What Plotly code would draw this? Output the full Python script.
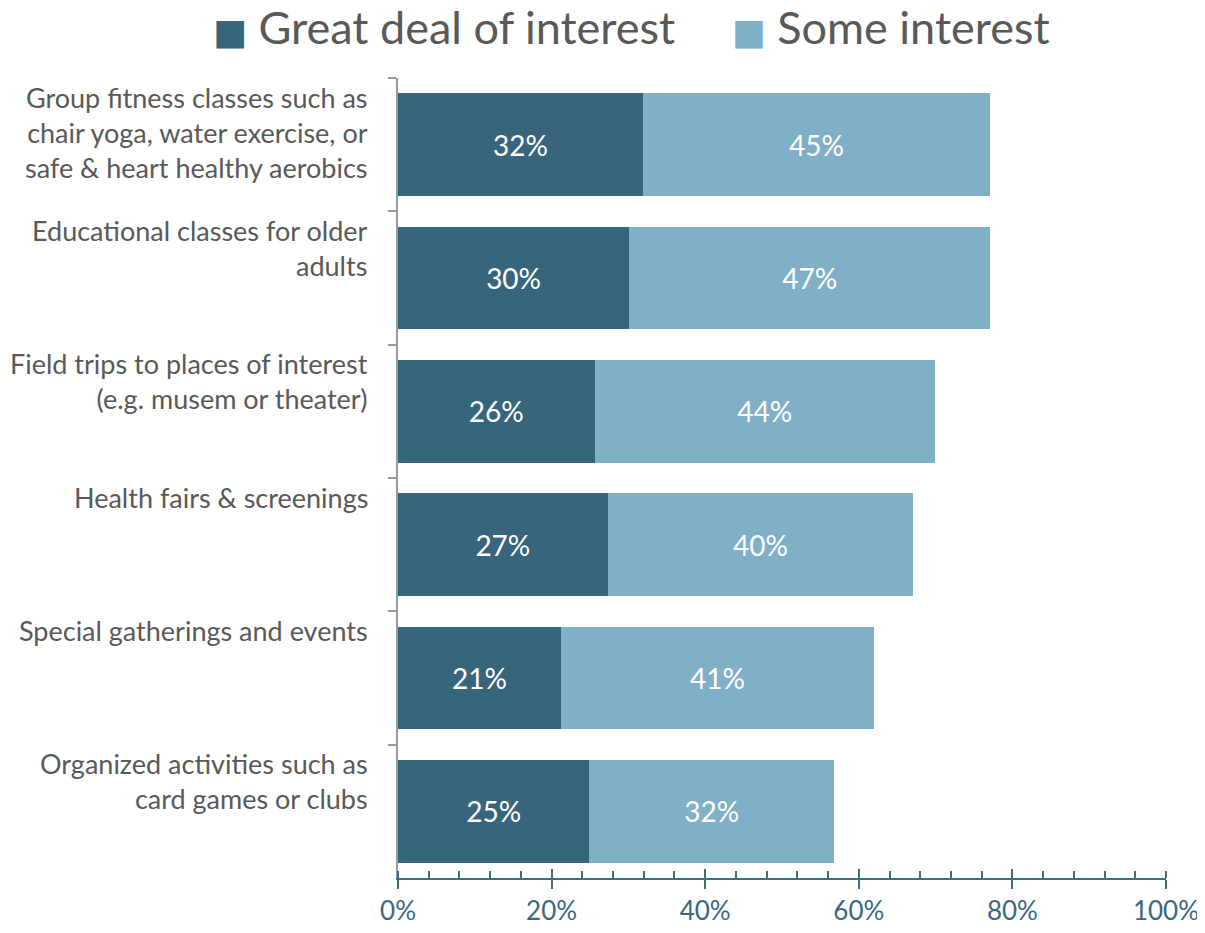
import plotly.graph_objects as go

categories = [
    "Group fitness classes such as<br>chair yoga, water exercise, or<br>safe &amp; heart healthy aerobics",
    "Educational classes for older<br>adults",
    "Field trips to places of interest<br>(e.g. musem or theater)",
    "Health fairs &amp; screenings",
    "Special gatherings and events",
    "Organized activities such as<br>card games or clubs",
]
great_deal = [31.9, 30.1, 25.6, 27.3, 21.2, 24.9]
some_interest = [45.2, 47.0, 44.3, 39.8, 40.8, 31.9]
series_names = ["Great deal of interest", "Some interest"]
tick_vals = [0, 20, 40, 60, 80, 100]
tick_text = ["0%", "20%", "40%", "60%", "80%", "100%"]

DARK = "#37657c"
LIGHT = "#80b0c8"
FONT = "Lato"
AXIS_BLUE = "#3f6e84"
TEXT_GREY = "#595959"
W, H = 1197, 925  # page body adds an 8px margin
ML, MR, MT, MB = 390, 39, 70, 55
PLOT_W, PLOT_H = W - ML - MR, H - MT - MB

fig = go.Figure()
legend_pad = ["", "&nbsp;"]
for i, (vals, name, col) in enumerate([(great_deal, series_names[0], DARK),
                                        (some_interest, series_names[1], LIGHT)]):
    fig.add_trace(go.Bar(
        y=categories, x=vals, orientation="h", name=name, showlegend=False,
        marker=dict(color=col, line=dict(width=0)),
        texttemplate="%{x:.0f}%", textposition="inside", insidetextanchor="middle",
        textfont=dict(color="white", size=28, family=FONT), hoverinfo="skip",
    ))
    fig.add_trace(go.Scatter(
        x=[None], y=[None], mode="markers", showlegend=True,
        name=(legend_pad[i] + f'<span style="color:{col};font-family:DejaVu Sans;font-size:36px">■</span> ' + name),
        marker=dict(symbol="square", size=1, color="rgba(0,0,0,0)"),
    ))

# category labels, top-aligned within each band like the original
for cat in categories:
    fig.add_annotation(
        x=0, xref="paper", y=cat, yref="y", text=cat, showarrow=False,
        xanchor="right", align="right", yanchor="top", yshift=66, xshift=-28,
        font=dict(size=27, color=TEXT_GREY, family=FONT),
    )

fig.update_layout(
    barmode="stack",
    bargap=0.23,
    width=W, height=H,
    margin=dict(l=ML, r=MR, t=MT, b=MB, autoexpand=False),
    paper_bgcolor="white", plot_bgcolor="white",
    font=dict(family=FONT, color=TEXT_GREY, size=27),
    showlegend=True,
    legend=dict(orientation="h", xref="paper", x=(165 - ML) / PLOT_W, xanchor="left",
                yref="paper", y=1 + (MT - 19) / PLOT_H, yanchor="middle",
                font=dict(size=45, color=TEXT_GREY, family=FONT),
                traceorder="normal", itemwidth=30,
                bgcolor="rgba(0,0,0,0)"),
    xaxis=dict(
        range=[0, 100], tickvals=tick_vals, ticktext=tick_text, automargin=False,
        showgrid=False, zeroline=False, showline=True, linecolor=AXIS_BLUE, linewidth=2,
        ticks="outside", ticklen=9, tickwidth=1.5, tickcolor=AXIS_BLUE,
        tickfont=dict(size=26, color="#3b6780", family=FONT),
        minor=dict(dtick=4, tick0=0, ticks="inside", ticklen=7, tickwidth=1.5, tickcolor=AXIS_BLUE),
        fixedrange=True,
    ),
    xaxis2=dict(
        overlaying="x", matches="x", range=[0, 100], tickvals=tick_vals,
        showticklabels=False, showgrid=False, zeroline=False, showline=False,
        ticks="inside", ticklen=9, tickwidth=1.5, tickcolor=AXIS_BLUE, side="bottom",
        anchor="y", automargin=False,
    ),
    yaxis=dict(
        autorange="reversed", showgrid=False, zeroline=False, automargin=False,
        showline=True, linecolor="#9a9a9a", linewidth=2, showticklabels=False,
        ticks="outside", tickson="boundaries", ticklen=8, tickwidth=2, tickcolor="#9a9a9a",
    ),
)
fig.add_trace(go.Scatter(x=[None], y=[None], xaxis="x2", yaxis="y", showlegend=False, hoverinfo="skip"))
fig.write_html("out.html")
